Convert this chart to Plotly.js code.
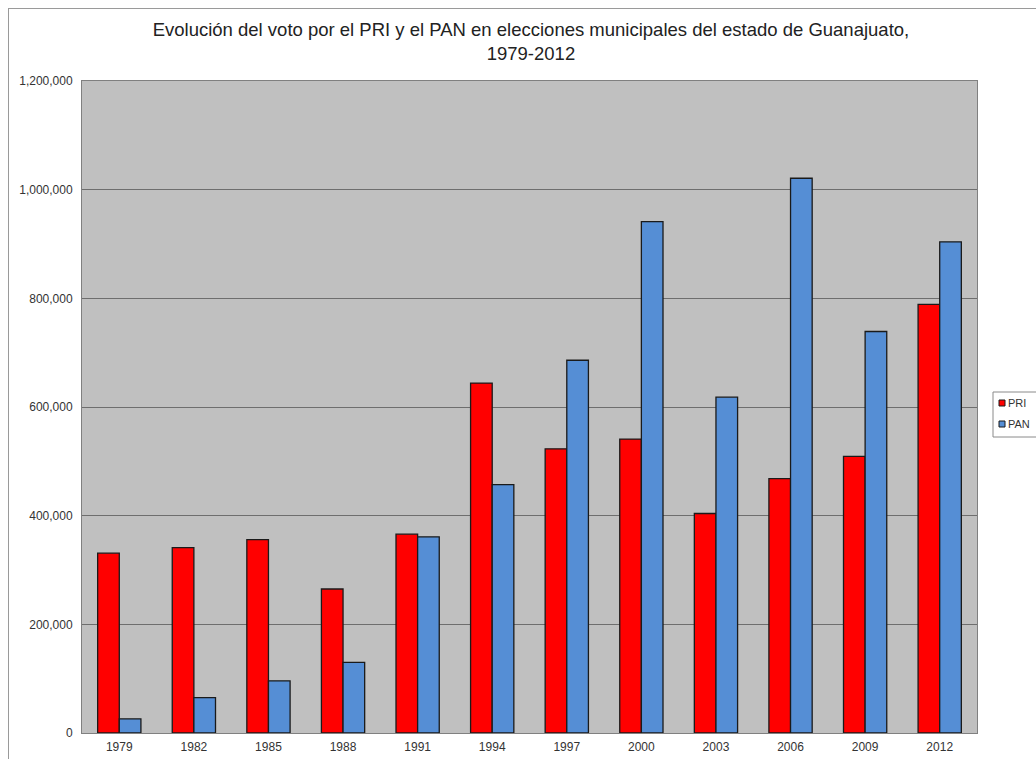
<!DOCTYPE html>
<html>
<head>
<meta charset="utf-8">
<script src="https://cdn.plot.ly/plotly-3.0.1.min.js"></script>
<style>
  html, body { margin: 0; padding: 0; background: #fff; }
  #frame { position: absolute; left: 8px; top: 8px; width: 1040px; height: 760px; border-left: 1px solid #9a9a9a; border-top: 1px solid #9a9a9a; }
  #chart { position: absolute; left: 0; top: 0; width: 1036px; height: 759px; }
</style>
</head>
<body>
<div id="frame"></div>
<div id="chart"></div>
<script>
const years = ["1979","1982","1985","1988","1991","1994","1997","2000","2003","2006","2009","2012"];
const pri = [331000, 341000, 356000, 265000, 366000, 644000, 523000, 541000, 404000, 468000, 509000, 789000];
const pan = [26000, 65000, 96000, 130000, 361000, 457000, 686000, 941000, 618000, 1021000, 739000, 904000];
const seriesNames = ["PRI", "PAN"];
const seriesColors = ["#FF0000", "#558ED5"];

const traces = [pri, pan].map((vals, i) => ({
  type: 'bar', name: seriesNames[i], x: years, y: vals,
  marker: { color: seriesColors[i], line: { color: '#1a1a1a', width: 1.3 } }
}));

// Compact legend (small squares like the original), built from series names/colours
const pxX = 1 / 895, pxY = 1 / 652;
const legShapes = [{
  type: 'rect', xref: 'paper', yref: 'paper',
  x0: (993 - 82) * pxX, x1: (1045 - 82) * pxX,
  y0: (733 - 437) * pxY, y1: (733 - 392) * pxY,
  fillcolor: '#ffffff', line: { color: '#8a8a8a', width: 1 }
}];
const legAnn = [];
seriesNames.forEach((nm, i) => {
  const cy = 733 - (403 + i * 21);
  legShapes.push({
    type: 'rect', xref: 'paper', yref: 'paper',
    x0: (999 - 82) * pxX, x1: (1005 - 82) * pxX,
    y0: (cy - 3) * pxY, y1: (cy + 3) * pxY,
    fillcolor: seriesColors[i], line: { color: '#1a1a1a', width: 1 }
  });
  legAnn.push({
    xref: 'paper', yref: 'paper', x: (1006 - 82) * pxX, y: cy * pxY,
    xanchor: 'left', yanchor: 'middle', showarrow: false, text: nm,
    font: { size: 11, color: '#333' }
  });
});

const layout = {
  width: 1036, height: 759,
  margin: { l: 82, r: 59, t: 81, b: 26, autoexpand: false },
  paper_bgcolor: 'rgba(0,0,0,0)',
  plot_bgcolor: '#C0C0C0',
  font: { family: 'Liberation Sans, Arial, sans-serif', color: '#333' },
  title: {
    text: 'Evolución del voto por el PRI y el PAN en elecciones municipales del estado de Guanajuato,<br>1979-2012',
    font: { size: 18.5, color: '#222', family: 'Liberation Sans, Arial, sans-serif' },
    x: 0.5125, xanchor: 'center', xref: 'container',
    y: 0.952, yanchor: 'middle', yref: 'container'
  },
  barmode: 'group',
  bargap: 0.42,
  bargroupgap: 0,
  xaxis: {
    type: 'category',
    tickfont: { size: 12, color: '#333' },
    showline: true, linecolor: '#808080', linewidth: 1, mirror: true,
    ticks: '', showgrid: false, ticklabelstandoff: 3
  },
  yaxis: {
    range: [0, 1200000], dtick: 200000, tickformat: ',d',
    tickfont: { size: 12, color: '#333' },
    showgrid: true, gridcolor: '#6e6e6e', gridwidth: 1,
    showline: true, linecolor: '#808080', linewidth: 1, mirror: true,
    ticks: '', ticklen: 0, zeroline: false, automargin: false,
    ticklabelstandoff: 6
  },
  showlegend: false,
  shapes: legShapes,
  annotations: legAnn
};

Plotly.newPlot('chart', traces, layout, { displayModeBar: false, staticPlot: true });
</script>
</body>
</html>
